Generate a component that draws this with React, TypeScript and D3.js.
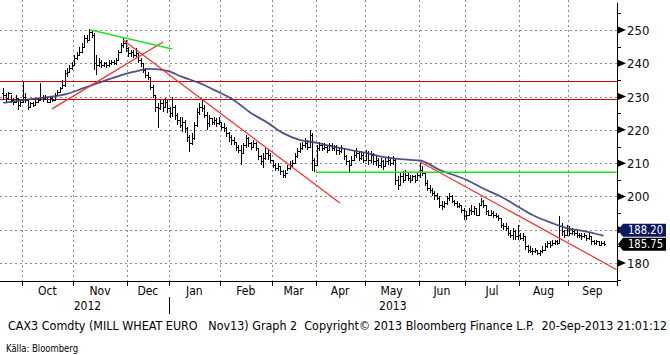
import React from "react";
import * as d3 from "d3";

// ---- data (daily OHLC, CAX3 Mill Wheat Euronext, Sep-2012 .. Sep-2013) ----
const closes = [
  230.5, 229.5, 231, 229, 228.5, 229.5, 227.5, 228.5, 230, 229,
  227, 228, 227.5, 228.5, 229, 230, 229.5, 230, 228.5, 229.5,
  229, 230.5, 231.5, 232.5, 233.5, 237, 237.5, 238.5, 239.5, 241.5,
  242.5, 243.5, 245, 247.5, 247, 249.5, 248.5, 240, 239.5, 240.5,
  239.5, 240, 239.5, 240, 240.5, 240, 241, 243.5, 245.5, 246,
  244.5, 243, 243.5, 242.5, 243, 241, 240, 238, 236.5, 236,
  233, 230.5, 227, 226.5, 228, 227, 228.5, 226.5, 225, 227,
  224.5, 223, 221.5, 222.5, 220.5, 218, 216, 217.5, 221.5, 225.5,
  227, 226.5, 224.5, 222, 223.5, 222.5, 223, 222, 222.5, 221,
  220.5, 219, 218, 217, 216.5, 215, 214, 213, 215.5, 217.5,
  216, 215, 216, 214.5, 212, 210.5, 211.5, 213, 212.5, 211,
  209.5, 208.5, 209, 207.5, 206.5, 207, 208.5, 209.5, 210, 212,
  213.5, 214.5, 215.5, 216, 215, 218.5, 211, 209.5, 214.5, 215.5,
  214.5, 215, 214, 215.5, 214.5, 215, 214, 213.5, 214.5, 212,
  210.5, 209.5, 211, 212.5, 213, 211.5, 212.5, 211, 213, 211,
  212.5, 210.5, 211, 209.5, 210.5, 209, 210.5, 211, 210, 211,
  205, 203.5, 206, 205, 206.5, 205.5, 205, 206, 205, 206.5,
  208, 207, 204, 202.5, 202, 201, 200.5, 199.5, 197.5, 197,
  198, 199.5, 200, 198.5, 198, 197, 197.5, 196, 194, 194.5,
  196, 195.5, 196.5, 194.5, 197.5, 198.5, 197.5, 195.5, 194.5, 195,
  194.5, 194, 193.5, 191.5, 191, 190.5, 189, 188.5, 189.5, 188,
  188.5, 187.5, 188, 185, 184, 183.5, 183.5, 184, 183, 183.5,
  184, 185, 186, 185.5, 186, 186.5, 186, 191, 189.5, 188.5,
  190.5, 189, 189.5, 189, 188.5, 188.5, 188, 188.5, 187.5, 188,
  186.5, 186, 186.5, 185.5, 186, 185.75,
];

const opens = [
  231, 230.5, 229.5, 231, 229, 228.5, 229.5, 227.5, 228.5, 230,
  229, 227, 228, 227.5, 228.5, 229, 230, 229.5, 230, 228.5,
  229.5, 229, 230.5, 231.5, 232.5, 233.5, 237, 237.5, 238.5, 239.5,
  241.5, 242.5, 243.5, 245, 247.5, 247, 249.5, 248.5, 240, 239.5,
  240.5, 239.5, 240, 239.5, 240, 240.5, 240, 241, 243.5, 245.5,
  246, 244.5, 243, 243.5, 242.5, 243, 241, 240, 238, 236.5,
  236, 233, 230.5, 227, 226.5, 228, 227, 228.5, 226.5, 225,
  227, 224.5, 223, 221.5, 222.5, 220.5, 218, 216, 217.5, 221.5,
  225.5, 227, 226.5, 224.5, 222, 223.5, 222.5, 223, 222, 222.5,
  221, 220.5, 219, 218, 217, 216.5, 215, 214, 213, 215.5,
  217.5, 216, 215, 216, 214.5, 212, 210.5, 211.5, 213, 212.5,
  211, 209.5, 208.5, 209, 207.5, 206.5, 207, 208.5, 209.5, 210,
  212, 213.5, 214.5, 215.5, 216, 215, 218.5, 211, 209.5, 214.5,
  215.5, 214.5, 215, 214, 215.5, 214.5, 215, 214, 213.5, 214.5,
  212, 210.5, 209.5, 211, 212.5, 213, 211.5, 212.5, 211, 213,
  211, 212.5, 210.5, 211, 209.5, 210.5, 209, 210.5, 211, 210,
  211, 205, 203.5, 206, 205, 206.5, 205.5, 205, 206, 205,
  206.5, 208, 207, 204, 202.5, 202, 201, 200.5, 199.5, 197.5,
  197, 198, 199.5, 200, 198.5, 198, 197, 197.5, 196, 194,
  194.5, 196, 195.5, 196.5, 194.5, 197.5, 198.5, 197.5, 195.5, 194.5,
  195, 194.5, 194, 193.5, 191.5, 191, 190.5, 189, 188.5, 189.5,
  188, 188.5, 187.5, 188, 185, 184, 183.5, 183.5, 184, 183,
  183.5, 184, 185, 186, 185.5, 186, 186.5, 186, 191, 189.5,
  188.5, 190.5, 189, 189.5, 189, 188.5, 188.5, 188, 188.5, 187.5,
  188, 186.5, 186, 186.5, 185.5, 186,
];

const highs = [
  232.5, 231, 231.5, 230.5, 229.5, 230.5, 229.5, 229, 234.5, 231,
  229, 228.5, 228.5, 229.5, 229.5, 234, 230.5, 230.5, 230, 230,
  230, 231, 232, 233, 235, 238, 238.5, 239.5, 240.5, 242.5,
  243.5, 245, 246, 248.5, 248.5, 250.2, 250, 249, 242.5, 241.5,
  241, 240.5, 240.5, 241, 241, 241, 241.5, 244, 246, 247.5,
  247, 245, 244, 244, 244.5, 243, 241.5, 240, 238.5, 237.5,
  236, 233.5, 230.5, 228, 229, 229, 229.5, 229, 227, 230,
  227.5, 225, 224, 224, 223, 221, 218.5, 219, 222.5, 226.5,
  228, 229, 227.5, 225.5, 224.5, 223.5, 224, 223.5, 224, 222.5,
  222, 221, 219.5, 218.5, 218, 216.5, 215.5, 215.5, 216, 218.5,
  218, 216.5, 217, 216.5, 214.5, 212.5, 213, 214.5, 214, 213,
  211, 210, 210, 209, 208, 208, 209.5, 210.5, 211, 213,
  214.5, 216, 216.5, 217.5, 217, 220, 219, 211.5, 215.5, 216.5,
  216, 216, 215.5, 216, 216, 215.5, 215.5, 215, 215.5, 214.5,
  212.5, 211, 212, 213.5, 214.5, 213.5, 213.5, 213, 214, 213.5,
  213.5, 213, 212, 211.5, 211.5, 211, 211.5, 212, 211.5, 212,
  211.5, 206, 207, 207.5, 208, 207, 206.5, 206.5, 206.5, 207,
  210, 209, 207, 205, 203.5, 202.5, 201.5, 201, 200, 198.5,
  198.5, 200, 201, 200.5, 199, 198.5, 198, 197.5, 196.5, 195.5,
  196.5, 197.5, 197, 196.5, 198, 199.5, 199, 197.5, 196, 196,
  195.5, 195, 194.5, 193.5, 192, 192, 191, 190, 190.5, 190,
  191.5, 189, 189, 188, 185.5, 185, 184.5, 184.5, 184, 184,
  185, 186, 186.5, 186.5, 187, 187, 187, 194, 192, 190,
  191.5, 191, 190.5, 190, 189.5, 189, 189, 189, 188.5, 189,
  188, 187, 187, 186.5, 186.5, 186.5,
];

const lows = [
  229, 228.5, 229, 228, 227.5, 228, 226, 227, 228, 228,
  226, 226.5, 227, 227.5, 228, 229, 228.5, 229, 228, 228,
  228.5, 229, 230.5, 231, 232.5, 233, 236, 237, 238, 239.5,
  241, 242.5, 243, 245, 246, 247, 247.5, 238, 236.5, 239,
  238.5, 239, 238.5, 239, 239.5, 239.5, 239.5, 241, 243, 244.5,
  243.5, 242, 242, 241.5, 242, 240, 239, 237, 235.5, 235,
  232, 229.5, 225.5, 220.6, 226, 225.5, 226.5, 225, 223.5, 224,
  223, 221.5, 220.5, 219.5, 219, 216.5, 213.4, 215.5, 217, 221,
  224.5, 225.5, 223.5, 220, 221, 221.5, 221.5, 221, 221.5, 220,
  219.5, 218, 216.5, 215.5, 215.5, 213.5, 213, 209.5, 213, 214.5,
  215, 214, 214.5, 213.5, 211, 209.5, 208.5, 211, 211, 210,
  208.5, 207.5, 207.5, 206.5, 205.5, 205.6, 207.5, 208, 208.5, 210,
  211.5, 213, 214, 214.5, 214, 215, 207.5, 207.3, 209.5, 213.5,
  213.5, 214, 213, 213.5, 213.5, 213.5, 212.5, 212.5, 213, 211,
  209.5, 207.4, 209, 210.5, 211.5, 210.5, 211, 210, 210.5, 209.5,
  210, 209.5, 209, 208.5, 208.5, 208, 209, 209.5, 209, 209.5,
  203.5, 202, 203, 204, 204.5, 204.5, 204, 204.5, 204, 204.5,
  205.5, 206, 203, 201.5, 201, 200, 199, 199, 196.5, 196,
  196.5, 197.5, 198.5, 198, 197, 196.5, 196.5, 195, 193, 193,
  194, 194.5, 194.5, 194, 194.5, 197, 196.5, 194.5, 194, 194,
  193.5, 193.5, 192.5, 190.5, 190, 189.5, 188, 187.5, 187, 187,
  187, 187, 186.5, 184, 183, 183, 182.5, 183, 182.5, 182,
  183, 184, 184.5, 184.5, 185, 185.5, 185.5, 186, 188, 187.5,
  188, 188, 188.5, 188, 187.5, 187.5, 187, 187.5, 186.5, 187,
  185.5, 185.5, 185.5, 185, 185, 185.25,
];

// moving average : bar index / value
const maIndex = [0, 12, 19, 26, 33, 40, 46, 53, 60, 67, 73, 80, 86, 94, 101, 108, 114, 121, 128, 135, 148, 155, 166, 170, 178, 189, 197, 203, 210, 216, 224, 230, 237, 245];
const maValue = [228.1, 229.3, 229.9, 230.8, 232.6, 234.4, 235.9, 237.4, 238.3, 237.7, 235.9, 234.1, 232, 229, 225.1, 222.1, 219.1, 217, 216.1, 214.9, 213.1, 211.9, 211, 210.8, 208, 205, 202, 200, 197, 194.4, 192, 190.5, 189.6, 188.2];

const monthLabels = ["Oct", "Nov", "Dec", "Jan", "Feb", "Mar", "Apr", "May", "Jun", "Jul", "Aug", "Sep"];
const monthStarts = [8, 29, 51, 68, 89, 110, 128, 148, 170, 189, 211, 231];
const yearLabels = ["2012", "2013"];
const yTicks = [180, 190, 200, 210, 220, 230, 240, 250];
const yLabelTicks = [180, 200, 210, 220, 230, 240, 250];
const yMinorTicks = [175, 185, 195, 205, 215, 225, 235, 245, 255];

// annotation lines: [i1, v1, i2, v2]
const redTrendLines = [
  [19.9, 226.3, 65.2, 246.4],
  [48.9, 247.0, 137.4, 198.0],
  [170.1, 210.4, 250.4, 178.0],
];
const greenTrendLines = [
  [35.8, 250.0, 68.9, 244.3],
  [127.6, 207.3, 250.4, 207.3],
];
const redLevels = [234.6, 229.3];

const lastClose = 185.75;
const lastMA = 188.2;

const footer = "CAX3 Comdty (MILL WHEAT EURO   Nov13) Graph 2  Copyright\u00A9 2013 Bloomberg Finance L.P.  20-Sep-2013 21:01:12";
const source = "Källa: Bloomberg";

const FONT = "'DejaVu Sans Condensed', 'Liberation Sans Narrow', 'DejaVu Sans', sans-serif";

export default function App() {
  const W = 670, H = 355;
  const axisX = 617;
  const axisY = 281;
  const x = d3.scaleLinear().domain([-1.35, 250.5]).range([0, axisX]);
  const y = d3.scaleLinear().domain([180, 250]).range([263, 30]);

  const tickXs = monthStarts.map((s) => x(s - 0.5));
  const labelXs = tickXs.map((t, k) => (k < tickXs.length - 1 ? (t + tickXs[k + 1]) / 2 : (t + axisX) / 2));
  const janTick = tickXs[3];

  const maLine = d3
    .line<number>()
    .x((d, k) => x(maIndex[k]))
    .y((d) => y(d))
    .curve(d3.curveMonotoneX);

  const bars = closes.map((c, i) => {
    const cx = Math.round(x(i)) + 0.5;
    return (
      <g key={i}>
        <line x1={cx} x2={cx} y1={y(highs[i])} y2={y(lows[i])} />
        <line x1={cx - 1.5} x2={cx} y1={Math.round(y(opens[i])) + 0.5} y2={Math.round(y(opens[i])) + 0.5} />
        <line x1={cx} x2={cx + 1.5} y1={Math.round(y(c)) + 0.5} y2={Math.round(y(c)) + 0.5} />
      </g>
    );
  });

  const labelBox = (cy: number, fill: string, text: string) => (
    <g>
      <path d={`M${axisX + 1},${cy} L${axisX + 6},${cy - 6.5} L${axisX + 49},${cy - 6.5} L${axisX + 49},${cy + 6.5} L${axisX + 6},${cy + 6.5} Z`} fill={fill} />
      <text x={axisX + 11} y={cy + 4} fill="#fff" fontSize={11.5} fontFamily={FONT} textLength={35} lengthAdjust="spacingAndGlyphs">{text}</text>
    </g>
  );

  return (
    <svg width={W} height={H} style={{ position: "absolute", left: 0, top: 0, background: "#fff" }}>
      <rect x={0} y={0} width={W} height={H} fill="#fff" />
      {/* grid */}
      <g stroke="#8a8a8a" strokeWidth={1} strokeDasharray="2,3" shapeRendering="crispEdges">
        {yTicks.map((t) => (
          <line key={t} x1={0} x2={axisX} y1={Math.round(y(t)) + 0.5} y2={Math.round(y(t)) + 0.5} />
        ))}
        {tickXs.map((t, k) => (
          <line key={k} x1={Math.round(t) + 0.5} x2={Math.round(t) + 0.5} y1={0} y2={axisY} />
        ))}
      </g>
      {/* horizontal red levels */}
      <g stroke="#d40000" strokeWidth={1} shapeRendering="crispEdges">
        {redLevels.map((v) => (
          <line key={v} x1={0} x2={axisX} y1={Math.round(y(v)) + 0.5} y2={Math.round(y(v)) + 0.5} />
        ))}
      </g>
      {/* bars */}
      <g stroke="#000" strokeWidth={1} shapeRendering="crispEdges">{bars}</g>
      {/* moving average */}
      <path d={maLine(maValue) || ""} fill="none" stroke="#3d3f7e" strokeWidth={1.8} strokeOpacity={0.9} />
      {/* trend lines */}
      <g stroke="#ff2a2a" strokeWidth={1.2}>
        {redTrendLines.map((l, k) => (
          <line key={k} x1={x(l[0])} y1={y(l[1])} x2={x(l[2])} y2={y(l[3])} />
        ))}
      </g>
      <g stroke="#22e022" strokeWidth={1.5}>
        {greenTrendLines.map((l, k) => (
          <line key={k} x1={x(l[0])} y1={y(l[1])} x2={x(l[2])} y2={y(l[3])} />
        ))}
      </g>
      {/* bottom axis */}
      <g stroke="#000" strokeWidth={1} shapeRendering="crispEdges">
        <line x1={0} x2={axisX + 1} y1={axisY + 0.5} y2={axisY + 0.5} />
        {tickXs.map((t, k) => (
          <line key={k} x1={Math.round(t) + 0.5} x2={Math.round(t) + 0.5} y1={axisY} y2={axisY + 5} />
        ))}
        <line x1={axisX + 0.5} x2={axisX + 0.5} y1={axisY} y2={axisY + 5} />
        <line x1={Math.round(janTick) + 0.5} x2={Math.round(janTick) + 0.5} y1={297} y2={314} />
        {/* right axis */}
        <line x1={axisX + 0.5} x2={axisX + 0.5} y1={3} y2={axisY + 3} />
        {yMinorTicks.map((t) => (
          <line key={t} x1={axisX} x2={axisX + 4} y1={Math.round(y(t)) + 0.5} y2={Math.round(y(t)) + 0.5} />
        ))}
      </g>
      <g fill="#000">
        {yTicks.map((t) => (
          <path key={t} d={`M${axisX + 1},${y(t) - 3.5} L${axisX + 9},${y(t)} L${axisX + 1},${y(t) + 3.5} Z`} />
        ))}
      </g>
      <g fontFamily={FONT} fontSize={13} fill="#0a0a20">
        {yLabelTicks.map((t) => (
          <text key={t} x={axisX + 10} y={y(t) + 5}>{t}</text>
        ))}
      </g>
      {labelBox(y(lastClose) - 13.5, "#0b1760", lastMA.toFixed(2))}
      {labelBox(y(lastClose) + 0.5, "#000", lastClose.toFixed(2))}
      {/* month labels */}
      <g fontFamily={FONT} fontSize={12} fill="#000" textAnchor="middle">
        {monthLabels.map((m, k) => (
          <text key={m} x={labelXs[k]} y={295}>{m}</text>
        ))}
        <text x={(x(0) + x(67)) / 2 + 2} y={310}>{yearLabels[0]}</text>
        <text x={(janTick + axisX) / 2} y={310}>{yearLabels[1]}</text>
      </g>
      <text x={8} y={330} fontFamily={FONT} fontSize={12} fill="#000" textLength={659} lengthAdjust="spacingAndGlyphs" xmlSpace="preserve" style={{ whiteSpace: "pre" }}>
        {footer}
      </text>
      <text x={6} y={352} fontFamily={FONT} fontSize={10} fill="#000" textLength={72} lengthAdjust="spacingAndGlyphs">
        {source}
      </text>
    </svg>
  );
}
